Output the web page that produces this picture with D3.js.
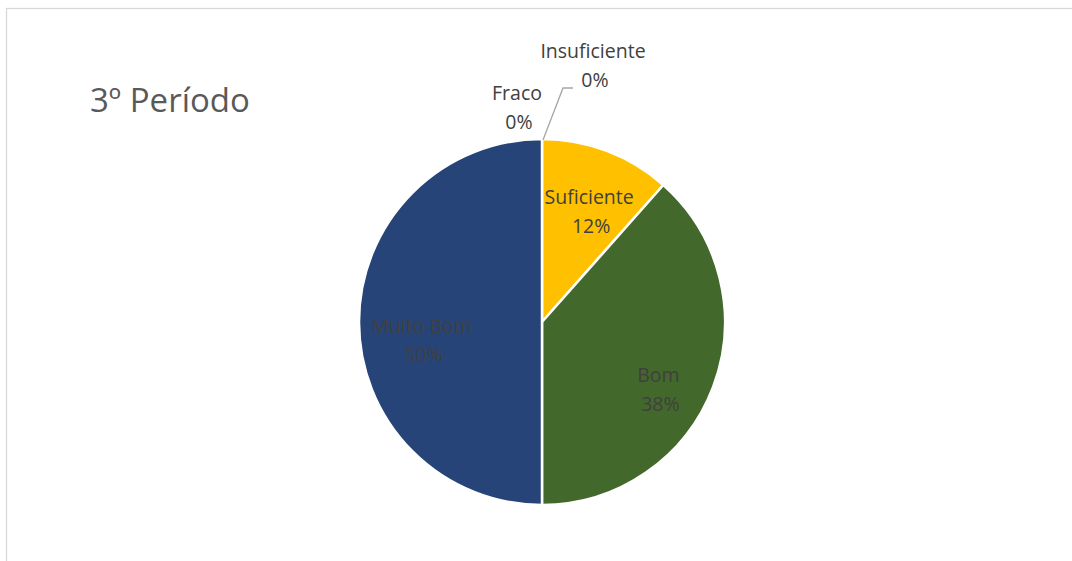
<!DOCTYPE html>
<html>
<head>
<meta charset="utf-8">
<script src="https://cdn.jsdelivr.net/npm/d3@7"></script>
<style>
  body { margin: 0; background: #fff; }
  svg { display: block; }
</style>
</head>
<body>
<svg id="chart"></svg>
<script>
// categories and counts for the period
const categories = ['Fraco', 'Insuficiente', 'Suficiente', 'Bom', 'Muito Bom'];
const counts = [0, 0, 3, 10, 13];
const colors = ['#ED7D31', '#A5A5A5', '#FFC000', '#43682B', '#264478'];
const title = '3º Período';

const width = 1072, height = 561;
const cx = 542, cy = 322, radius = 183;

const svg = d3.select('#chart')
    .attr('width', width)
    .attr('height', height);

// chart frame
svg.append('rect')
    .attr('x', 6.5)
    .attr('y', 8.5)
    .attr('width', width)
    .attr('height', height)
    .attr('fill', '#fff')
    .attr('stroke', '#d9d9d9')
    .attr('stroke-width', 1.3);

svg.append('text')
    .attr('x', 90)
    .attr('y', 112)
    .attr('font-family', 'Open Sans, sans-serif')
    .attr('font-size', 33)
    .attr('fill', '#595959')
    .text(title);

const data = categories.map((c, i) => ({ name: c, value: counts[i], color: colors[i] }));
const total = d3.sum(counts);

const pie = d3.pie().sort(null).value(d => d.value);
const arc = d3.arc().innerRadius(0).outerRadius(radius);
const labelArc = d3.arc().innerRadius(radius * 0.68).outerRadius(radius * 0.68);

const g = svg.append('g').attr('transform', `translate(${cx},${cy})`);
const arcs = pie(data);

g.selectAll('path')
    .data(arcs.filter(d => d.value > 0))
    .join('path')
    .attr('d', arc)
    .attr('fill', d => d.data.color)
    .attr('stroke', '#fff')
    .attr('stroke-width', 2.5)
    .attr('stroke-linejoin', 'round');

// small nudges so labels sit like the original's best-fit placement
const nudge = {
    'Fraco': [-25, -218],
    'Insuficiente': [51, -260],
    'Suficiente': [3, 2],
    'Bom': [0, 20],
    'Muito Bom': [4, 15]
};

const pct = d => `${Math.round(d.value / total * 100)}%`;

const labels = g.selectAll('g.label')
    .data(arcs)
    .join('g')
    .attr('class', 'label')
    .attr('transform', d => {
        const [x, y] = d.value > 0 ? labelArc.centroid(d) : [0, 0];
        const [nx, ny] = nudge[d.data.name];
        return `translate(${x + nx},${y + ny})`;
    });

labels.append('text')
    .attr('text-anchor', 'middle')
    .attr('font-family', 'Open Sans, sans-serif')
    .attr('font-size', 19.5)
    .attr('fill', '#404040')
    .selectAll('tspan')
    .data(d => [d.data.name, pct(d)])
    .join('tspan')
    .attr('x', (d, i) => i === 1 ? 2 : 0)
    .attr('y', (d, i) => i === 0 ? -4 : 25)
    .text(d => d);

// leader line for the zero slice at the top
g.append('polyline')
    .attr('points', [[1, -radius + 1], [21, -234], [31, -234]].map(p => p.join(',')).join(' '))
    .attr('fill', 'none')
    .attr('stroke', '#a6a6a6')
    .attr('stroke-width', 1.3);
</script>
</body>
</html>
